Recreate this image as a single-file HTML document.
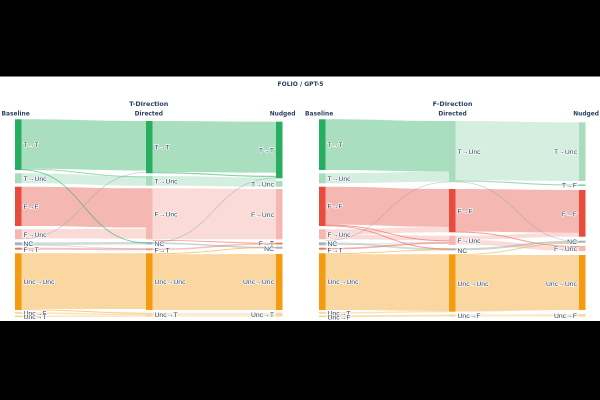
<!DOCTYPE html>
<html><head><meta charset="utf-8"><style>
html,body{margin:0;padding:0;background:#000;}
svg{display:block;}
.h{font-family:"DejaVu Sans","Liberation Sans",sans-serif;font-weight:bold;fill:#2a3f5f;}
.l{font-family:"Liberation Sans","DejaVu Sans",sans-serif;font-size:6.8px;fill:#2a3f5f;stroke:#fff;stroke-width:1.3px;paint-order:stroke;stroke-linejoin:round;}
.e{text-anchor:end;}
</style></head><body>
<svg width="600" height="400" viewBox="0 0 600 400" xmlns="http://www.w3.org/2000/svg">
<rect x="0" y="0" width="600" height="400" fill="#fff"/>
<rect x="0" y="0" width="600" height="76.5" fill="#000"/>
<rect x="0" y="321" width="600" height="79" fill="#000"/>

<text class="h" x="300.5" y="86" font-size="6" text-anchor="middle">FOLIO / GPT-5</text>
<text class="h" x="148.8" y="106" font-size="6.4" text-anchor="middle">T-Direction</text>
<text class="h" x="452.5" y="106" font-size="6.4" text-anchor="middle">F-Direction</text>
<text class="h" x="1.5" y="115.6" font-size="5.9">Baseline</text>
<text class="h" x="148.8" y="115.6" font-size="5.9" text-anchor="middle">Directed</text>
<text class="h" x="295.5" y="115.6" font-size="5.9" text-anchor="end">Nudged</text>
<text class="h" x="305" y="115.6" font-size="5.9">Baseline</text>
<text class="h" x="452.5" y="115.6" font-size="5.9" text-anchor="middle">Directed</text>
<text class="h" x="599" y="115.6" font-size="5.9" text-anchor="end">Nudged</text>

<!-- LEFT links Baseline -> Directed -->
<g>
<path d="M21.5 119.3 C83.75 119.3 83.75 121 146 121 L146 170.5 C83.75 170.5 83.75 168.8 21.5 168.8 Z" fill="rgba(39,174,96,0.4)"/>
<path d="M21.5 173.3 C83.75 173.3 83.75 176.7 146 176.7 L146 185.7 C83.75 185.7 83.75 183.3 21.5 183.3 Z" fill="rgba(39,174,96,0.2)"/>
<path d="M21.5 186.7 C83.75 186.7 83.75 188.3 146 188.3 L146 227.6 C83.75 227.6 83.75 226 21.5 226 Z" fill="rgba(231,76,60,0.4)"/>
<path d="M21.5 229.3 C83.75 229.3 83.75 228.6 146 228.6 L146 238.6 C83.75 238.6 83.75 238.5 21.5 238.5 Z" fill="rgba(231,76,60,0.2)"/>
<path d="M21.5 242.3 C83.75 242.3 83.75 242 146 242 L146 244.5 C83.75 244.5 83.75 245.3 21.5 245.3 Z" fill="rgba(149,165,166,0.4)"/>
<path d="M21.5 247.7 C83.75 247.7 83.75 248.3 146 248.3 L146 250.3 C83.75 250.3 83.75 249.7 21.5 249.7 Z" fill="rgba(231,76,60,0.35)"/>
<path d="M21.5 253.3 C83.75 253.3 83.75 253.3 146 253.3 L146 309 C83.75 309 83.75 309 21.5 309 Z" fill="rgba(243,156,18,0.4)"/>
<path d="M21.5 169.2 C83.75 169.2 83.75 176.8 146 176.8" fill="none" stroke="rgba(39,174,96,0.5)" stroke-width="0.9"/>
<path d="M21.5 169.8 C83.75 169.8 83.75 242.8 146 242.8" fill="none" stroke="rgba(39,174,96,0.6)" stroke-width="0.9"/>
<path d="M21.5 238.8 C83.75 238.8 83.75 172.5 146 172.5" fill="none" stroke="rgba(149,165,166,0.5)" stroke-width="0.8"/>
<path d="M21.5 244.8 C83.75 244.8 83.75 249 146 249" fill="none" stroke="rgba(149,165,166,0.4)" stroke-width="0.8"/>
<path d="M21.5 309.6 C83.75 309.6 83.75 313.2 146 313.2" fill="none" stroke="rgba(243,156,18,0.5)" stroke-width="1"/>
<path d="M21.5 313 C83.75 313 83.75 314.5 146 314.5" fill="none" stroke="rgba(243,156,18,0.3)" stroke-width="1.4"/>
<path d="M21.5 316.3 C83.75 316.3 83.75 316 146 316" fill="none" stroke="rgba(243,156,18,0.3)" stroke-width="1.3"/>
</g>

<!-- LEFT links Directed -> Nudged -->
<g>
<path d="M152.5 121 C214.25 121 214.25 121.7 276 121.7 L276 172.7 C214.25 172.7 214.25 172 152.5 172 Z" fill="rgba(39,174,96,0.4)"/>
<path d="M152.5 176 C214.25 176 214.25 177.5 276 177.5 L276 186.7 C214.25 186.7 214.25 185.7 152.5 185.7 Z" fill="rgba(39,174,96,0.2)"/>
<path d="M152.5 188.3 C214.25 188.3 214.25 189 276 189 L276 239.3 C214.25 239.3 214.25 239.3 152.5 239.3 Z" fill="rgba(231,76,60,0.2)"/>
<path d="M152.5 254.3 C214.25 254.3 214.25 254 276 254 L276 310 C214.25 310 214.25 310 152.5 310 Z" fill="rgba(243,156,18,0.4)"/>
<path d="M152.5 312.7 C214.25 312.7 214.25 312.7 276 312.7 L276 316.7 C214.25 316.7 214.25 316.7 152.5 316.7 Z" fill="rgba(243,156,18,0.2)"/>
<path d="M152.5 172.6 C214.25 172.6 214.25 176.5 276 176.5" fill="none" stroke="rgba(39,174,96,0.55)" stroke-width="1.2"/>
<path d="M152.5 242.5 C214.25 242.5 214.25 177.8 276 177.8" fill="none" stroke="rgba(149,165,166,0.5)" stroke-width="0.8"/>
<path d="M152.5 243.3 C214.25 243.3 214.25 247.7 276 247.7" fill="none" stroke="rgba(149,165,166,0.5)" stroke-width="1.5"/>
<path d="M152.5 240.3 C214.25 240.3 214.25 243.2 276 243.2" fill="none" stroke="rgba(231,76,60,0.5)" stroke-width="0.9"/>
<path d="M152.5 249.3 C214.25 249.3 214.25 243.8 276 243.8" fill="none" stroke="rgba(231,76,60,0.35)" stroke-width="1.5"/>
<path d="M152.5 253.8 C214.25 253.8 214.25 247.5 276 247.5" fill="none" stroke="rgba(243,156,18,0.6)" stroke-width="0.9"/>
</g>

<!-- RIGHT links Baseline -> Directed -->
<g>
<path d="M325.5 119.3 C387.25 119.3 387.25 121 449 121 L449 171.7 C387.25 171.7 387.25 170 325.5 170 Z" fill="rgba(39,174,96,0.4)"/>
<path d="M325.5 173.3 C387.25 173.3 387.25 171.7 449 171.7 L449 181.7 C387.25 181.7 387.25 183.3 325.5 183.3 Z" fill="rgba(39,174,96,0.2)"/>
<path d="M325.5 186.7 C387.25 186.7 387.25 189 449 189 L449 227 C387.25 227 387.25 224.6 325.5 224.6 Z" fill="rgba(231,76,60,0.4)"/>
<path d="M325.5 229.3 C387.25 229.3 387.25 227 449 227 L449 232.3 C387.25 232.3 387.25 234.6 325.5 234.6 Z" fill="rgba(231,76,60,0.2)"/>
<path d="M325.5 234.6 C387.25 234.6 387.25 235.7 449 235.7 L449 240.4 C387.25 240.4 387.25 239.3 325.5 239.3 Z" fill="rgba(231,76,60,0.2)"/>
<path d="M325.5 242.3 C387.25 242.3 387.25 248.3 449 248.3 L449 250.3 C387.25 250.3 387.25 244.3 325.5 244.3 Z" fill="rgba(149,165,166,0.4)"/>
<path d="M325.5 254.2 C387.25 254.2 387.25 254.3 449 254.3 L449 311 C387.25 311 387.25 310 325.5 310 Z" fill="rgba(243,156,18,0.4)"/>
<path d="M325.5 240.5 C387.25 240.5 387.25 182 449 182" fill="none" stroke="rgba(149,165,166,0.5)" stroke-width="0.8"/>
<path d="M325.5 225 C387.25 225 387.25 240.8 449 240.8" fill="none" stroke="rgba(231,76,60,0.55)" stroke-width="0.9"/>
<path d="M325.5 225.8 C387.25 225.8 387.25 249 449 249" fill="none" stroke="rgba(231,76,60,0.55)" stroke-width="0.9"/>
<path d="M325.5 244.8 C387.25 244.8 387.25 242 449 242" fill="none" stroke="rgba(149,165,166,0.4)" stroke-width="0.8"/>
<path d="M325.5 248.7 C387.25 248.7 387.25 243 449 243" fill="none" stroke="rgba(231,76,60,0.45)" stroke-width="1.6"/>
<path d="M325.5 253.8 C387.25 253.8 387.25 249.8 449 249.8" fill="none" stroke="rgba(243,156,18,0.55)" stroke-width="0.9"/>
<path d="M325.5 313 C387.25 313 387.25 311.7 449 311.7" fill="none" stroke="rgba(243,156,18,0.3)" stroke-width="1.4"/>
<path d="M325.5 316.3 C387.25 316.3 387.25 315.5 449 315.5" fill="none" stroke="rgba(243,156,18,0.3)" stroke-width="2"/>
</g>

<!-- RIGHT links Directed -> Nudged -->
<g>
<path d="M455.5 121 C517.25 121 517.25 122.3 579 122.3 L579 181 C517.25 181 517.25 180.2 455.5 180.2 Z" fill="rgba(39,174,96,0.2)"/>
<path d="M455.5 189 C517.25 189 517.25 190 579 190 L579 232.8 C517.25 232.8 517.25 231.6 455.5 231.6 Z" fill="rgba(231,76,60,0.4)"/>
<path d="M455.5 235.7 C517.25 235.7 517.25 232.8 579 232.8 L579 236.7 C517.25 236.7 517.25 239.6 455.5 239.6 Z" fill="rgba(231,76,60,0.2)"/>
<path d="M455.5 239.6 C517.25 239.6 517.25 246.5 579 246.5 L579 251 C517.25 251 517.25 244.5 455.5 244.5 Z" fill="rgba(231,76,60,0.2)"/>
<path d="M455.5 255 C517.25 255 517.25 255 579 255 L579 310 C517.25 310 517.25 311.5 455.5 311.5 Z" fill="rgba(243,156,18,0.4)"/>
<path d="M455.5 314.3 C517.25 314.3 517.25 314 579 314 L579 316.7 C517.25 316.7 517.25 316.7 455.5 316.7 Z" fill="rgba(243,156,18,0.2)"/>
<path d="M455.5 180.8 C517.25 180.8 517.25 185.1 579 185.1" fill="none" stroke="rgba(39,174,96,0.45)" stroke-width="1.2"/>
<path d="M455.5 181.8 C517.25 181.8 517.25 241.5 579 241.5" fill="none" stroke="rgba(149,165,166,0.5)" stroke-width="0.8"/>
<path d="M455.5 232 C517.25 232 517.25 246.5 579 246.5" fill="none" stroke="rgba(231,76,60,0.55)" stroke-width="0.9"/>
<path d="M455.5 249.3 C517.25 249.3 517.25 241.7 579 241.7" fill="none" stroke="rgba(149,165,166,0.5)" stroke-width="2"/>
<path d="M455.5 254.6 C517.25 254.6 517.25 243 579 243" fill="none" stroke="rgba(243,156,18,0.55)" stroke-width="0.9"/>
</g>

<!-- Nodes -->
<g>
<!-- left baseline -->
<rect x="15" y="119.3" width="6.5" height="50.7" fill="#27ae60"/>
<rect x="15" y="173.3" width="6.5" height="10" fill="#a9dcbe"/>
<rect x="15" y="186.7" width="6.5" height="39.3" fill="#e74c3c"/>
<rect x="15" y="229.3" width="6.5" height="10" fill="#f5b7b1"/>
<rect x="15" y="242.3" width="6.5" height="3" fill="#a8b3b4"/>
<rect x="15" y="247.7" width="6.5" height="2" fill="#ec7063"/>
<rect x="15" y="253.3" width="6.5" height="56.7" fill="#f39c12"/>
<rect x="15" y="312.3" width="6.5" height="1.4" fill="#f8c98a"/>
<rect x="15" y="315.7" width="6.5" height="1.3" fill="#f8c98a"/>
<!-- left directed -->
<rect x="146" y="121" width="6.5" height="52.3" fill="#27ae60"/>
<rect x="146" y="176" width="6.5" height="9.7" fill="#a9dcbe"/>
<rect x="146" y="188.3" width="6.5" height="51" fill="#f5b7b1"/>
<rect x="146" y="242" width="6.5" height="2.5" fill="#a8b3b4"/>
<rect x="146" y="248.3" width="6.5" height="2" fill="#e39a92"/>
<rect x="146" y="253.3" width="6.5" height="56.7" fill="#f39c12"/>
<rect x="146" y="312.7" width="6.5" height="4" fill="#fad7a0"/>
<!-- left nudged -->
<rect x="276" y="121.7" width="6.5" height="56.6" fill="#27ae60"/>
<rect x="276" y="181" width="6.5" height="5.7" fill="#a9dcbe"/>
<rect x="276" y="189" width="6.5" height="50.3" fill="#f5b7b1"/>
<rect x="276" y="242.7" width="6.5" height="1.8" fill="#ec7063"/>
<rect x="276" y="246.7" width="6.5" height="2" fill="#a8b3b4"/>
<rect x="276" y="254" width="6.5" height="56" fill="#f39c12"/>
<rect x="276" y="312.7" width="6.5" height="4" fill="#fad7a0"/>
<!-- right baseline -->
<rect x="319" y="119.3" width="6.5" height="50.7" fill="#27ae60"/>
<rect x="319" y="173.3" width="6.5" height="10" fill="#a9dcbe"/>
<rect x="319" y="186.7" width="6.5" height="39.3" fill="#e74c3c"/>
<rect x="319" y="229.3" width="6.5" height="10" fill="#f5b7b1"/>
<rect x="319" y="242.3" width="6.5" height="3" fill="#a8b3b4"/>
<rect x="319" y="247.7" width="6.5" height="2" fill="#ec7063"/>
<rect x="319" y="253.3" width="6.5" height="56.7" fill="#f39c12"/>
<rect x="319" y="312.3" width="6.5" height="1.4" fill="#f8c98a"/>
<rect x="319" y="315.7" width="6.5" height="1.3" fill="#f8c98a"/>
<!-- right directed -->
<rect x="449" y="121" width="6.5" height="61.3" fill="#a9dcbe"/>
<rect x="449" y="189" width="6.5" height="43.3" fill="#e74c3c"/>
<rect x="449" y="235.7" width="6.5" height="9.3" fill="#f5b7b1"/>
<rect x="449" y="248.3" width="6.5" height="2" fill="#a8b3b4"/>
<rect x="449" y="254.3" width="6.5" height="57.4" fill="#f39c12"/>
<rect x="449" y="314.3" width="6.5" height="2.4" fill="#fad7a0"/>
<!-- right nudged -->
<rect x="579" y="122.3" width="6.5" height="58.7" fill="#a9dcbe"/>
<rect x="579" y="184.3" width="6.5" height="1.7" fill="#8fd1ab"/>
<rect x="579" y="190" width="6.5" height="46.7" fill="#e74c3c"/>
<rect x="579" y="240.7" width="6.5" height="2" fill="#a8b3b4"/>
<rect x="579" y="246" width="6.5" height="5" fill="#f5b7b1"/>
<rect x="579" y="255" width="6.5" height="55" fill="#f39c12"/>
<rect x="579" y="314" width="6.5" height="2.7" fill="#fad7a0"/>
</g>

<!-- Labels -->
<g>
<!-- left baseline -->
<text class="l" x="23.5" y="147.2">T→T</text>
<text class="l" x="23.5" y="180.8">T→Unc</text>
<text class="l" x="23.5" y="208.9">F→F</text>
<text class="l" x="23.5" y="236.8">F→Unc</text>
<text class="l" x="23.5" y="246">NC</text>
<text class="l" x="23.5" y="251.8">F→T</text>
<text class="l" x="23.5" y="284.2">Unc→Unc</text>
<text class="l" x="23.5" y="315.5">Unc→F</text>
<text class="l" x="23.5" y="319.2">Unc→T</text>
<!-- left directed -->
<text class="l" x="154.5" y="149.6">T→T</text>
<text class="l" x="154.5" y="183.3">T→Unc</text>
<text class="l" x="154.5" y="216.6">F→Unc</text>
<text class="l" x="154.5" y="245.8">NC</text>
<text class="l" x="154.5" y="252.5">F→T</text>
<text class="l" x="154.5" y="284.2">Unc→Unc</text>
<text class="l" x="154.5" y="317.2">Unc→T</text>
<!-- left nudged -->
<text class="l e" x="274" y="152.5">T→T</text>
<text class="l e" x="274" y="186.6">T→Unc</text>
<text class="l e" x="274" y="217.2">F→Unc</text>
<text class="l e" x="274" y="245.6">F→T</text>
<text class="l e" x="274" y="251.2">NC</text>
<text class="l e" x="274" y="284.2">Unc→Unc</text>
<text class="l e" x="274" y="317.2">Unc→T</text>
<!-- right baseline -->
<text class="l" x="327.5" y="147.2">T→T</text>
<text class="l" x="327.5" y="180.8">T→Unc</text>
<text class="l" x="327.5" y="208.5">F→F</text>
<text class="l" x="327.5" y="237.2">F→Unc</text>
<text class="l" x="327.5" y="245.8">NC</text>
<text class="l" x="327.5" y="252.5">F→T</text>
<text class="l" x="327.5" y="284.2">Unc→Unc</text>
<text class="l" x="327.5" y="315.6">Unc→T</text>
<text class="l" x="327.5" y="319.3">Unc→F</text>
<!-- right directed -->
<text class="l" x="457.5" y="154.2">T→Unc</text>
<text class="l" x="457.5" y="213.5">F→F</text>
<text class="l" x="457.5" y="242.8">F→Unc</text>
<text class="l" x="457.5" y="252.8">NC</text>
<text class="l" x="457.5" y="285.8">Unc→Unc</text>
<text class="l" x="457.5" y="318.2">Unc→F</text>
<!-- right nudged -->
<text class="l e" x="577" y="154.2">T→Unc</text>
<text class="l e" x="577" y="187.5">T→F</text>
<text class="l e" x="577" y="216.2">F→F</text>
<text class="l e" x="577" y="244.2">NC</text>
<text class="l e" x="577" y="250.8">F→Unc</text>
<text class="l e" x="577" y="285.8">Unc→Unc</text>
<text class="l e" x="577" y="318.2">Unc→F</text>
</g>
</svg>
</body></html>
